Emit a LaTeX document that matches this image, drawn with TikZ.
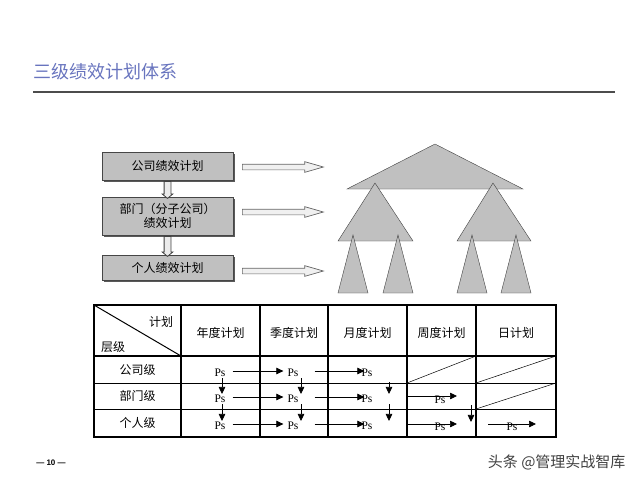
\documentclass[tikz,border=0pt]{standalone}
\usepackage{fontspec}
\setmainfont{Liberation Serif}
\newfontfamily\cjk{Noto Sans CJK SC}
\newfontfamily\numfont{Liberation Sans}
\usetikzlibrary{calc}
\usetikzlibrary{positioning}
\usetikzlibrary{shapes.arrows}
\usetikzlibrary{shadows}
\usetikzlibrary{arrows.meta}
\definecolor{titleblue}{RGB}{104,116,190}
\definecolor{plangray}{RGB}{192,192,192}
\definecolor{edgegray}{RGB}{70,70,70}
\tikzset{
  planbox/.style={draw=edgegray, fill=plangray, minimum width=131pt, inner sep=0pt,
    align=center, font=\cjk\fontsize{12}{14}\selectfont,
    drop shadow={shadow xshift=1.5pt, shadow yshift=-1.5pt, fill=black!65, opacity=1}},
  harrow/.style={single arrow, draw=black!60, fill=black!6, line width=0.7pt, inner sep=2.5pt,
    single arrow head extend=2.5pt, single arrow tip angle=32, minimum height=81pt, anchor=west},
  varrow/.style={single arrow, draw=black!75, fill=black!8, line width=0.8pt, inner sep=3pt,
    single arrow head extend=2pt, single arrow tip angle=100, rotate=-90},
  tri/.style={draw=black!75, fill=plangray, line join=miter},
  cell/.style={font=\cjk\fontsize{12}{14}\selectfont},
  ps/.style={font=\fontsize{11.5}{13}\selectfont, inner sep=1pt},
  pa/.style={line width=0.7pt, -{Triangle[length=7pt, width=6.5pt]}},
}

\begin{document}
\begin{tikzpicture}[x=1pt, y=-1pt]
      \useasboundingbox (0,0) rectangle (640,480);

      \node[anchor=west, inner sep=0pt, text=titleblue, font=\cjk\fontsize{18}{20}\selectfont] (title) at (33,72) {三级绩效计划体系};
      \draw[black!70, line width=1.2pt] (33,92) -- (615,92);

      \node[planbox, minimum height=28pt] (b1) at (167.5,166) {公司绩效计划};
      \node[planbox, minimum height=38pt] (b2) at (167.5,216) {部门（分子公司）\\绩效计划};
      \node[planbox, minimum height=25pt] (b3) at (167.5,267.5) {个人绩效计划};
      \node[varrow, minimum height=17pt] (v1) at ($(b1.south)!0.5!(b2.north)$) {};
      \node[varrow, minimum height=20pt] (v2) at ($(b2.south)!0.5!(b3.north)$) {};

      \node[harrow] (h1) at (242,167) {};
      \node[harrow] (h2) at (242,212) {};
      \node[harrow] (h3) at (242,271) {};

      \filldraw[tri] (435,144) -- (347,189) -- (523,189) -- cycle;
      \filldraw[tri] (375,183) -- (338,241) -- (413,241) -- cycle;
      \filldraw[tri] (493,183) -- (457,241) -- (531,241) -- cycle;
      \filldraw[tri] (353,235) -- (338,293) -- (368,293) -- cycle;
      \filldraw[tri] (398,235) -- (383,293) -- (413,293) -- cycle;
      \filldraw[tri] (472,235) -- (457,293) -- (487,293) -- cycle;
      \filldraw[tri] (516,235) -- (501,293) -- (531,293) -- cycle;

      \draw[line width=1.3pt] (94,356) -- (556,356);
      \foreach \y in {383,409}
        \draw[line width=0.8pt] (94,\y) -- (556,\y);
      \foreach \x in {181,260,328,407,476}
        \draw[line width=1.2pt] (\x,305) -- (\x,437);
      \draw[line width=1pt] (94,305) -- (181,356);
      \draw[line width=0.5pt] (407,383) -- (476,356);
      \draw[line width=0.5pt] (476,383) -- (556,356);
      \draw[line width=0.5pt] (476,409) -- (556,383);
      \draw[line width=2pt] (94,305) rectangle (556,437);

      \node[cell] (plan) at (161,322) {计划};
      \node[cell] (level) at (113,347) {层级};
      \node[cell] (year) at (220.5,333) {年度计划};
      \node[cell] (season) at (294,333) {季度计划};
      \node[cell] (month) at (367.5,333) {月度计划};
      \node[cell] (week) at (441.5,333) {周度计划};
      \node[cell] (day) at (516,333) {日计划};
      \node[cell] (corp) at (137.5,370) {公司级};
      \node[cell] (dept) at (137.5,396) {部门级};
      \node[cell] (pers) at (137.5,423) {个人级};

      \node[ps] (p12) at (220,373) {Ps};
      \node[ps] (p13) at (293,373) {Ps};
      \node[ps] (p14) at (367,373) {Ps};
      \node[ps] (p22) at (220,399) {Ps};
      \node[ps] (p23) at (293,399) {Ps};
      \node[ps] (p24) at (367,399) {Ps};
      \node[ps] (p25) at (440,400) {Ps};
      \node[ps] (p32) at (220,426) {Ps};
      \node[ps] (p33) at (293,426) {Ps};
      \node[ps] (p34) at (367,426) {Ps};
      \node[ps] (p35) at (440,427) {Ps};
      \node[ps] (p36) at (512,427) {Ps};

      \draw[pa] ([xshift=6pt, yshift=2pt]p12.east) -- ([xshift=-3pt, yshift=2pt]p13.west);
      \draw[pa] ([xshift=15pt, yshift=2pt]p13.east) -- ([xshift=4pt, yshift=2pt]p14.west);
      \draw[pa] ([xshift=6pt, yshift=2pt]p22.east) -- ([xshift=-3pt, yshift=2pt]p23.west);
      \draw[pa] ([xshift=15pt, yshift=2pt]p23.east) -- ([xshift=4pt, yshift=2pt]p24.west);
      \draw[pa] ([xshift=6pt, yshift=2pt]p32.east) -- ([xshift=-3pt, yshift=2pt]p33.west);
      \draw[pa] ([xshift=15pt, yshift=2pt]p33.east) -- ([xshift=4pt, yshift=2pt]p34.west);
      \draw[pa] ($(p25)+(-32,-4)$) -- ($(p25)+(17,-4)$);
      \draw[pa] ($(p35)+(-32,-3)$) -- ($(p35)+(17,-3)$);
      \draw[pa] ($(p36)+(-24,-3)$) -- ($(p36)+(24,-3)$);

      \draw[pa] ([xshift=2pt]p12.south) -- ([xshift=2pt]p22.north);
      \draw[pa] ([xshift=2pt]p22.south) -- ([xshift=2pt]p32.north);
      \draw[pa] ([xshift=8pt]p13.south) -- ([xshift=8pt]p23.north);
      \draw[pa] ([xshift=8pt]p23.south) -- ([xshift=8pt]p33.north);
      \draw[pa] ([xshift=22pt, yshift=-4pt]p14.south) -- ([xshift=22pt]p24.north);
      \draw[pa] ([xshift=22pt]p24.south) -- ([xshift=22pt]p34.north);
      \draw[pa] ([xshift=31pt]p25.south) -- ([xshift=31pt]p35.north);

      \node[font=\numfont\bfseries\fontsize{8}{9}\selectfont] (page) at (51,463) {— 10 —};
      \node[anchor=east, text=black!75, font=\cjk\fontsize{15}{17}\selectfont] (mark) at (629,462) {头条 @管理实战智库};
    \end{tikzpicture}
\end{document}
